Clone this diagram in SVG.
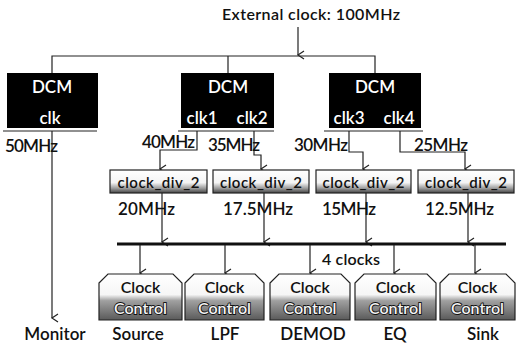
<svg xmlns="http://www.w3.org/2000/svg" width="516" height="345" viewBox="0 0 516 345">
<defs>
<style>
.t{font-family:"Lato","Open Sans","Liberation Sans",sans-serif;fill:#111;font-weight:600}
.w{fill:#fff}
.ln{fill:none;stroke:#222;stroke-width:1.2}
.dcm{fill:#000}
.div{fill:url(#gd);stroke:#222;stroke-width:1.2}
.cc{fill:url(#gc);stroke:#222;stroke-width:1.2}
.ctl{fill:#f4f4f4;stroke:#111;stroke-width:1.8;paint-order:stroke fill}
</style>
<linearGradient id="gd" x1="0" y1="0" x2="0" y2="1">
<stop offset="0" stop-color="#fff"/><stop offset="0.55" stop-color="#f4f4f4"/><stop offset="0.8" stop-color="#9a9a9a"/><stop offset="1" stop-color="#444"/>
</linearGradient>
<linearGradient id="gc" x1="0" y1="0" x2="0" y2="1">
<stop offset="0" stop-color="#fff"/><stop offset="0.45" stop-color="#f6f6f6"/><stop offset="0.58" stop-color="#a0a0a0"/><stop offset="1" stop-color="#5a5a5a"/>
</linearGradient>
<marker id="ar" markerWidth="10" markerHeight="10" refX="5" refY="8" orient="auto" markerUnits="userSpaceOnUse" viewBox="0 0 10 10">
<path d="M1,2 L5,8 L9,2" fill="none" stroke="#222" stroke-width="1.2"/>
</marker>
</defs>

<text class="t" x="311" y="20" font-size="16" text-anchor="middle" textLength="178">External clock: 100MHz</text>

<g id="connectors">
<path class="ln" d="M298,27 V55" marker-end="url(#ar)"/>
<path class="ln" d="M52,73 V56 H375 V73 M228,56 V73"/>
<path class="ln" d="M52,131 V318" marker-end="url(#ar)"/>
<path class="ln" d="M197,131 V150 H160 V169" marker-end="url(#ar)"/>
<path class="ln" d="M254,131 V155 H261 V169" marker-end="url(#ar)"/>
<path class="ln" d="M349,131 V152 H363 V169" marker-end="url(#ar)"/>
<path class="ln" d="M400,131 V152 H465 V169" marker-end="url(#ar)"/>
<path class="ln" d="M162,193 V242" marker-end="url(#ar)"/>
<path class="ln" d="M264,193 V242" marker-end="url(#ar)"/>
<path class="ln" d="M366,193 V242" marker-end="url(#ar)"/>
<path class="ln" d="M468,193 V242" marker-end="url(#ar)"/>
<path d="M117,244 H506" stroke="#111" stroke-width="3"/>
<path class="ln" d="M140,245 V273" marker-end="url(#ar)"/>
<path class="ln" d="M225,245 V273" marker-end="url(#ar)"/>
<path class="ln" d="M310,245 V273" marker-end="url(#ar)"/>
<path class="ln" d="M394,245 V273" marker-end="url(#ar)"/>
<path class="ln" d="M475,245 V273" marker-end="url(#ar)"/>
</g>

<g id="dcm0">
<rect class="dcm" x="7" y="73" width="91" height="55"/>
<path class="ln" d="M3,131 H97"/>
<text class="t w" x="52" y="93" font-size="17" text-anchor="middle">DCM</text>
<text class="t w" x="50" y="124" font-size="17" text-anchor="middle">clk</text>
</g>
<g id="dcm1">
<rect class="dcm" x="181" y="73" width="93" height="55"/>
<path class="ln" d="M178,131 H274"/>
<text class="t w" x="228" y="93" font-size="17" text-anchor="middle">DCM</text>
<text class="t w" x="202" y="124" font-size="17" text-anchor="middle">clk1</text>
<text class="t w" x="252" y="124" font-size="17" text-anchor="middle">clk2</text>
</g>
<g id="dcm2">
<rect class="dcm" x="329" y="73" width="92" height="55"/>
<path class="ln" d="M324,131 H423"/>
<text class="t w" x="375" y="93" font-size="17" text-anchor="middle">DCM</text>
<text class="t w" x="349" y="124" font-size="17" text-anchor="middle">clk3</text>
<text class="t w" x="399" y="124" font-size="17" text-anchor="middle">clk4</text>
</g>

<g id="labels">
<text class="t" x="5" y="152" font-size="17" textLength="53">50MHz</text>
<text class="t" x="142" y="148" font-size="17" textLength="53">40MHz</text>
<text class="t" x="208" y="151" font-size="17" textLength="52">35MHz</text>
<text class="t" x="294" y="151" font-size="17" textLength="54">30MHz</text>
<text class="t" x="414" y="151" font-size="17" textLength="54">25MHz</text>
<text class="t" x="118" y="215" font-size="17" textLength="57">20MHz</text>
<text class="t" x="223" y="215" font-size="17" textLength="70">17.5MHz</text>
<text class="t" x="322" y="215" font-size="17" textLength="54">15MHz</text>
<text class="t" x="425" y="215" font-size="17" textLength="69">12.5MHz</text>
<text class="t" x="322" y="265" font-size="16" textLength="58">4 clocks</text>
</g>

<g id="div1"><rect class="div" x="110" y="170" width="97" height="23"/><text class="t" x="158.5" y="188" font-size="15" text-anchor="middle" textLength="82">clock_div_2</text></g>
<g id="div2"><rect class="div" x="213" y="170" width="96" height="23"/><text class="t" x="261" y="188" font-size="15" text-anchor="middle" textLength="82">clock_div_2</text></g>
<g id="div3"><rect class="div" x="316" y="170" width="95" height="23"/><text class="t" x="363.5" y="188" font-size="15" text-anchor="middle" textLength="82">clock_div_2</text></g>
<g id="div4"><rect class="div" x="418" y="170" width="96" height="23"/><text class="t" x="466" y="188" font-size="15" text-anchor="middle" textLength="82">clock_div_2</text></g>

<g id="ccSource">
<path class="cc" d="M99,283 L108,274 H173 L182,283 V320 H99 Z"/>
<text class="t" x="140.5" y="293" font-size="16" text-anchor="middle">Clock</text>
<text class="t ctl" x="140.5" y="314" font-size="16" text-anchor="middle">Control</text>
</g>
<g id="ccLPF">
<path class="cc" d="M185,283 L194,274 H255 L264,283 V320 H185 Z"/>
<text class="t" x="224.5" y="293" font-size="16" text-anchor="middle">Clock</text>
<text class="t ctl" x="224.5" y="314" font-size="16" text-anchor="middle">Control</text>
</g>
<g id="ccDEMOD">
<path class="cc" d="M270,283 L279,274 H341 L350,283 V320 H270 Z"/>
<text class="t" x="310" y="293" font-size="16" text-anchor="middle">Clock</text>
<text class="t ctl" x="310" y="314" font-size="16" text-anchor="middle">Control</text>
</g>
<g id="ccEQ">
<path class="cc" d="M355,283 L364,274 H427 L436,283 V320 H355 Z"/>
<text class="t" x="395.5" y="293" font-size="16" text-anchor="middle">Clock</text>
<text class="t ctl" x="395.5" y="314" font-size="16" text-anchor="middle">Control</text>
</g>
<g id="ccSink">
<path class="cc" d="M440,283 L449,274 H506 L515,283 V320 H440 Z"/>
<text class="t" x="477.5" y="293" font-size="16" text-anchor="middle">Clock</text>
<text class="t ctl" x="477.5" y="314" font-size="16" text-anchor="middle">Control</text>
</g>

<g id="names">
<text class="t" x="55" y="340" font-size="17" text-anchor="middle">Monitor</text>
<text class="t" x="138" y="340" font-size="17" text-anchor="middle">Source</text>
<text class="t" x="225" y="340" font-size="17" text-anchor="middle">LPF</text>
<text class="t" x="313" y="340" font-size="17" text-anchor="middle">DEMOD</text>
<text class="t" x="395" y="340" font-size="17" text-anchor="middle">EQ</text>
<text class="t" x="483" y="340" font-size="17" text-anchor="middle">Sink</text>
</g>
</svg>
